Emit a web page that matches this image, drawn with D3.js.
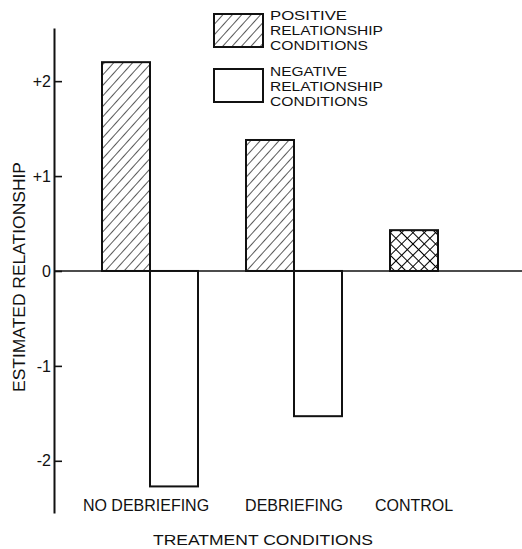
<!DOCTYPE html>
<html><head><meta charset="utf-8">
<script src="https://cdn.jsdelivr.net/npm/d3@7"></script>
<style>
html,body{margin:0;padding:0;background:#fff;}
svg{display:block;font-family:"Liberation Sans",Arial,sans-serif;}
</style></head>
<body><svg id="c" width="522" height="549"></svg>
<script>
// ---- data ----
const categories = ["NO DEBRIEFING", "DEBRIEFING", "CONTROL"];
const positiveValues = [2.2, 1.38, 0.43];     // positive relationship conditions (control = crosshatched)
const negativeValues = [-2.27, -1.53, null];  // negative relationship conditions
const tickValues = [2, 1, 0, -1, -2];
const tickLabels = ["+2", "+1", "0", "-1", "-2"];
const legendLabels = [["POSITIVE", "RELATIONSHIP", "CONDITIONS"], ["NEGATIVE", "RELATIONSHIP", "CONDITIONS"]];
const xTitle = "TREATMENT CONDITIONS";
const yTitle = "ESTIMATED RELATIONSHIP";

const svg = d3.select("#c");
const defs = svg.append("defs");
// hatch pattern
const h = defs.append("pattern").attr("id","hatch").attr("patternUnits","userSpaceOnUse")
  .attr("width",7).attr("height",7).attr("patternTransform","rotate(42)");
h.append("rect").attr("width",7).attr("height",7).attr("fill","#fff");
h.append("line").attr("x1",0).attr("y1",0).attr("x2",0).attr("y2",7)
  .attr("stroke","#000").attr("stroke-width",1.3);
// crosshatch
const ch = defs.append("pattern").attr("id","cross").attr("patternUnits","userSpaceOnUse")
  .attr("width",8).attr("height",8).attr("patternTransform","rotate(45)");
ch.append("rect").attr("width",8).attr("height",8).attr("fill","#fff");
ch.append("line").attr("x1",0).attr("y1",0).attr("x2",0).attr("y2",8).attr("stroke","#000").attr("stroke-width",2);
ch.append("line").attr("x1",0).attr("y1",0).attr("x2",8).attr("y2",0).attr("stroke","#000").attr("stroke-width",2);

const axisX = 54;
const y = d3.scaleLinear().domain([-2.55, 2.56]).range([513, 28]);
const x = d3.scaleBand().domain(categories).range([78, 510]).paddingInner(1/3).paddingOuter(1/6);
const sub = d3.scaleBand().domain(["pos","neg"]).range([0, x.bandwidth()]);

// zero line
svg.append("line").attr("x1",axisX).attr("x2",522).attr("y1",y(0)).attr("y2",y(0))
  .attr("stroke","#111").attr("stroke-width",1.6);

// bars
categories.forEach((c,i)=>{
  const pv = positiveValues[i], nv = negativeValues[i];
  if (pv != null) {
    svg.append("rect").attr("x", x(c)+sub("pos")).attr("width", sub.bandwidth())
      .attr("y", y(pv)).attr("height", y(0)-y(pv))
      .attr("fill", nv == null ? "url(#cross)" : "url(#hatch)")
      .attr("stroke","#111").attr("stroke-width",2);
  }
  if (nv != null) {
    svg.append("rect").attr("x", x(c)+sub("neg")).attr("width", sub.bandwidth())
      .attr("y", y(0)).attr("height", y(nv)-y(0))
      .attr("fill","#fff").attr("stroke","#111").attr("stroke-width",2);
  }
  const cx = nv == null ? x(c)+sub("pos")+sub.bandwidth()/2 : x(c)+x.bandwidth()/2;
  svg.append("text").attr("x", cx - (i===0?4:0)).attr("y", 510.5).attr("text-anchor","middle")
    .attr("font-size",16).attr("fill","#111").text(c);
});

// y axis
const ax = svg.append("g").attr("transform",`translate(${axisX},0)`)
  .call(d3.axisLeft(y).tickValues(tickValues).tickFormat((d,i)=>tickLabels[i])
    .tickSizeInner(-8).tickSizeOuter(0).tickPadding(3));
ax.select(".domain").attr("stroke","#111").attr("stroke-width",2);
ax.selectAll(".tick line").attr("stroke","#111").attr("stroke-width",1.6);
ax.selectAll(".tick text").attr("font-size",16).attr("fill","#111")
  .attr("font-family","'Liberation Sans',Arial,sans-serif");

// axis titles
svg.append("text").attr("x",263).attr("y",545).attr("text-anchor","middle")
  .attr("font-size",15.5).attr("fill","#111")
  .attr("textLength",220).attr("lengthAdjust","spacingAndGlyphs").text(xTitle);
svg.append("text").attr("transform","translate(25,277) rotate(-90)").attr("text-anchor","middle")
  .attr("font-size",16).attr("fill","#111")
  .attr("textLength",230).attr("lengthAdjust","spacingAndGlyphs").text(yTitle);

// legend
const legTop = [14, 69];
const legText = [20, 76];
const legFill = ["url(#hatch)", "#fff"];
const widths = {"POSITIVE":77, "NEGATIVE":77, "RELATIONSHIP":113, "CONDITIONS":98};
legendLabels.forEach((lines,k)=>{
  svg.append("rect").attr("x",214).attr("y",legTop[k]).attr("width",49).attr("height",33)
    .attr("fill",legFill[k]).attr("stroke","#111").attr("stroke-width",2);
  lines.forEach((t,j)=>{
    svg.append("text").attr("x",270).attr("y",legText[k]+j*15).attr("font-size",13.4)
      .attr("fill","#111").attr("textLength",widths[t]).attr("lengthAdjust","spacingAndGlyphs").text(t);
  });
});
</script></body></html>
